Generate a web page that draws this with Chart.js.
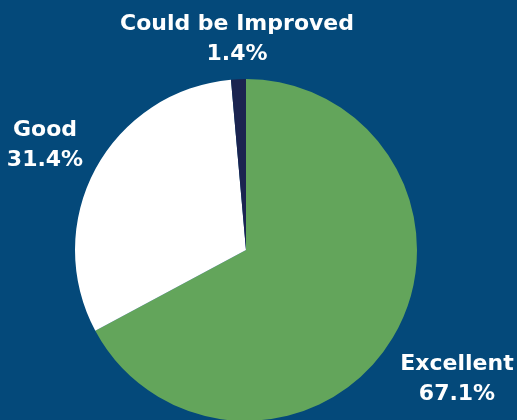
<!DOCTYPE html>
<html>
<head>
<meta charset="utf-8">
<script src="https://cdn.jsdelivr.net/npm/chart.js@4"></script>
<style>
  html, body { margin: 0; padding: 0; background: #04497a; overflow: hidden; }
  #wrap { width: 517px; height: 420px; overflow: hidden; position: relative; }
  #wrap canvas { display: block; }
</style>
</head>
<body>
<div id="wrap"><canvas id="pieChart" width="517" height="440"></canvas></div>
<script>
const labels = ['Excellent', 'Good', 'Could be Improved'];
const values = [67.1, 31.4, 1.4];
const colors = ['#63a55b', '#ffffff', '#1b2450'];

// where each label is written (center x, baseline of first line)
const labelSpots = [
    { x: 457, y: 370 },
    { x: 45, y: 136 },
    { x: 237, y: 30 }
];

const labelPlugin = {
    id: 'sliceLabels',
    afterDraw(chart) {
        const c = chart.ctx;
        c.save();
        c.fillStyle = '#ffffff';
        c.textAlign = 'center';
        c.textBaseline = 'alphabetic';
        c.font = 'bold 22px "DejaVu Sans"';
        labels.forEach((name, i) => {
            const p = labelSpots[i];
            c.fillText(name, p.x, p.y);
            c.fillText(values[i].toFixed(1) + '%', p.x, p.y + 30);
        });
        c.restore();
    }
};

const ctx = document.getElementById('pieChart').getContext('2d');
new Chart(ctx, {
    type: 'pie',
    data: {
        labels: labels,
        datasets: [{
            data: values,
            backgroundColor: colors,
            borderWidth: 0
        }]
    },
    options: {
        responsive: false,
        animation: false,
        layout: { padding: { top: 79, bottom: 19, left: 0, right: 25 } },
        plugins: {
            legend: { display: false },
            tooltip: { enabled: false }
        }
    },
    plugins: [labelPlugin]
});
</script>
</body>
</html>
